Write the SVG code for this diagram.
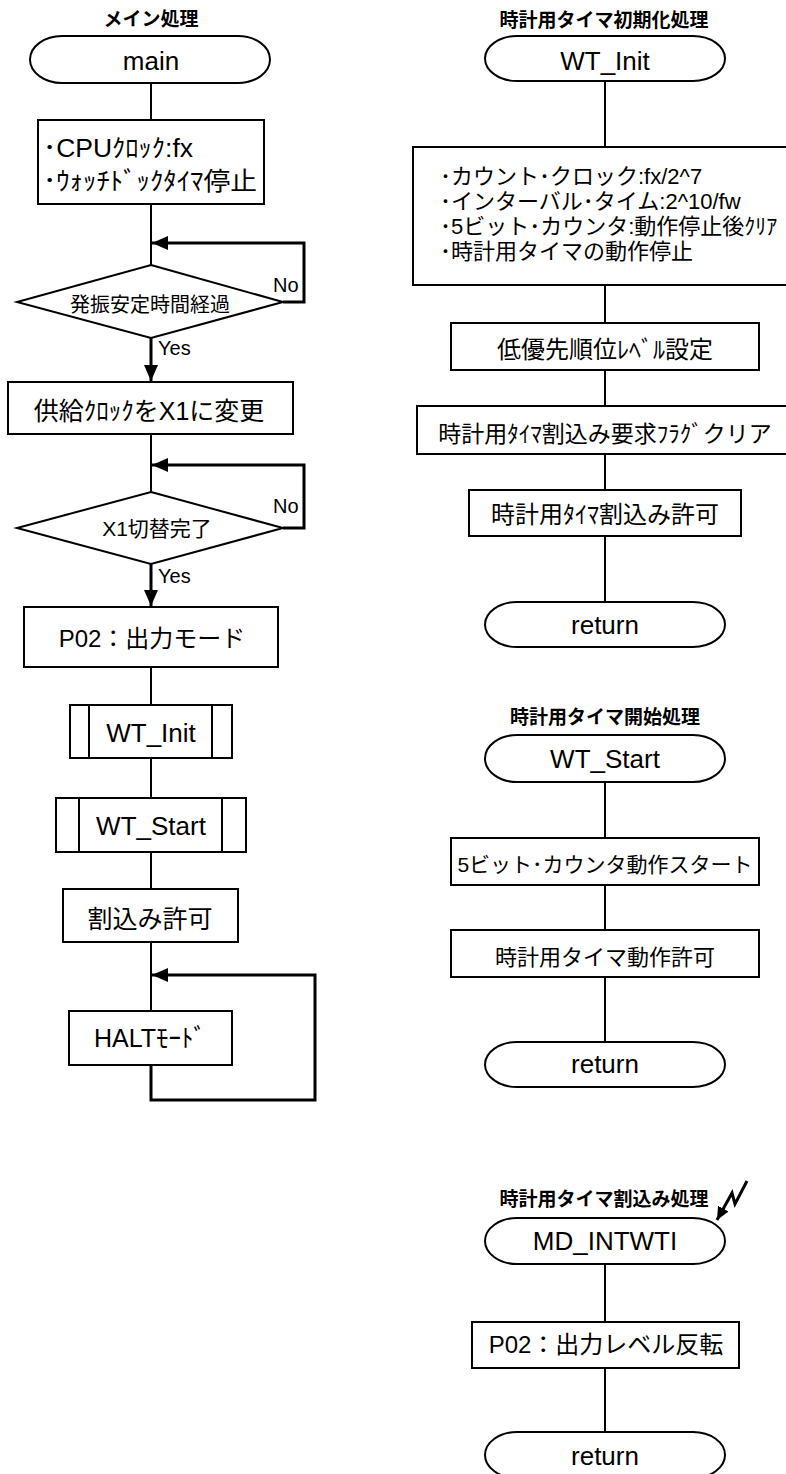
<svg xmlns="http://www.w3.org/2000/svg" width="786" height="1474" viewBox="0 0 786 1474">
<defs>
<style>
.bg{fill:#fff}
.box{fill:#fff;stroke:#000;stroke-width:2}
.ln{fill:none;stroke:#000;stroke-width:2}
.thk{fill:none;stroke:#000;stroke-width:3}
text{font-family:"Liberation Sans","Noto Sans CJK JP",sans-serif;fill:#000}
.ttl{font-family:"Noto Sans CJK JP",sans-serif;font-weight:bold;font-size:19px;text-anchor:middle}
.term{font-size:26px;text-anchor:middle}
.c{text-anchor:middle}
.lbl{font-size:20px}
</style>
<marker id="arr" markerUnits="userSpaceOnUse" markerWidth="16" markerHeight="14" refX="16" refY="7" orient="auto">
<path d="M0,0 L16,7 L0,14 z" fill="#000"/>
</marker>
<marker id="arrS" markerUnits="userSpaceOnUse" markerWidth="13" markerHeight="12" refX="13" refY="6" orient="auto">
<path d="M0,0 L13,6 L0,12 z" fill="#000"/>
</marker>
</defs>
<rect class="bg" x="0" y="0" width="786" height="1474"/>

<g id="connectors">
<path class="ln" d="M151,83 V120"/>
<path class="ln" d="M151,204 V265"/>
<path class="thk" d="M283,302 H304 V243 H152" marker-end="url(#arr)"/>
<path class="thk" d="M151,338 V381" marker-end="url(#arr)"/>
<path class="ln" d="M151,434 V492"/>
<path class="thk" d="M283,528 H304 V465 H152" marker-end="url(#arr)"/>
<path class="thk" d="M151,564 V606" marker-end="url(#arr)"/>
<path class="ln" d="M151,667 V705"/>
<path class="ln" d="M151,758 V798"/>
<path class="ln" d="M151,852 V889"/>
<path class="ln" d="M151,942 V1011"/>
<path class="thk" d="M151,1065 V1100 H315 V975 H152" marker-end="url(#arr)"/>
<path class="ln" d="M605,81 V147"/>
<path class="ln" d="M605,285 V323"/>
<path class="ln" d="M605,370 V406"/>
<path class="ln" d="M605,454 V490"/>
<path class="ln" d="M605,536 V602"/>
<path class="ln" d="M605,782 V838"/>
<path class="ln" d="M605,885 V930"/>
<path class="ln" d="M605,977 V1042"/>
<path class="ln" d="M605,1264 V1322"/>
<path class="ln" d="M605,1368 V1432"/>
<path class="thk" d="M747,1181 L735,1204 L732,1193 L717,1220" marker-end="url(#arrS)"/>
</g>

<g id="main-title"><text class="ttl" x="151" y="26">メイン処理</text></g>
<g id="n-main"><rect class="box" x="30" y="36" width="240" height="47" rx="32" ry="23.5"/><text class="term" x="151" y="70">main</text></g>
<g id="n-cpu"><rect class="box" x="38" y="120" width="226" height="84"/>
<text x="43" y="157" font-size="25" textLength="150" lengthAdjust="spacingAndGlyphs">･CPUｸﾛｯｸ:fx</text>
<text x="43" y="190" font-size="25" textLength="214" lengthAdjust="spacingAndGlyphs">･ｳｫｯﾁﾄﾞｯｸﾀｲﾏ停止</text></g>
<g id="n-osc"><polygon class="box" points="151,265 283,302 151,338 17,302"/><text class="c" x="150" y="312" font-size="20">発振安定時間経過</text>
<text class="lbl" x="273" y="292">No</text><text class="lbl" x="158" y="355">Yes</text></g>
<g id="n-x1"><rect class="box" x="8" y="382" width="285" height="52"/><text class="c" x="149" y="420" font-size="25">供給ｸﾛｯｸをX1に変更</text></g>
<g id="n-x1done"><polygon class="box" points="151,492 283,528 151,564 17,528"/><text class="c" x="157" y="536" font-size="21">X1切替完了</text>
<text class="lbl" x="273" y="513">No</text><text class="lbl" x="158" y="583">Yes</text></g>
<g id="n-p02"><rect class="box" x="24" y="607" width="254" height="60"/><text class="c" x="152" y="647" font-size="24">P02：出力モード</text></g>
<g id="n-callinit"><rect class="box" x="70" y="705" width="162" height="53"/><path class="ln" d="M89,705 V758 M212,705 V758"/><text class="term" x="151" y="742">WT_Init</text></g>
<g id="n-callstart"><rect class="box" x="56" y="798" width="190" height="54"/><path class="ln" d="M79,798 V852 M222,798 V852"/><text class="term" x="151" y="835">WT_Start</text></g>
<g id="n-ei"><rect class="box" x="63" y="889" width="175" height="53"/><text class="c" x="150" y="928" font-size="25">割込み許可</text></g>
<g id="n-halt"><rect class="box" x="69" y="1011" width="163" height="54"/><text class="c" x="150" y="1047" font-size="25">HALTﾓｰﾄﾞ</text></g>

<g id="init-title"><text class="ttl" x="604" y="27" font-size="20">時計用タイマ初期化処理</text></g>
<g id="n-wtinit"><rect class="box" x="485" y="36" width="240" height="45" rx="32" ry="22.5"/><text class="term" x="605" y="70">WT_Init</text></g>
<g id="n-settings"><rect class="box" x="413" y="147" width="384" height="138"/>
<text x="440" y="184" font-size="22">･カウント･クロック:fx/2^7</text>
<text x="440" y="209" font-size="22">･インターバル･タイム:2^10/fw</text>
<text x="440" y="234" font-size="22">･5ビット･カウンタ:動作停止後ｸﾘｱ</text>
<text x="440" y="259" font-size="22">･時計用タイマの動作停止</text></g>
<g id="n-prio"><rect class="box" x="451" y="323" width="308" height="47"/><text class="c" x="605" y="358" font-size="24">低優先順位ﾚﾍﾞﾙ設定</text></g>
<g id="n-flag"><rect class="box" x="417" y="406" width="376" height="48"/><text class="c" x="605" y="442" font-size="23">時計用ﾀｲﾏ割込み要求ﾌﾗｸﾞクリア</text></g>
<g id="n-wtie"><rect class="box" x="469" y="490" width="272" height="46"/><text class="c" x="605" y="523" font-size="24">時計用ﾀｲﾏ割込み許可</text></g>
<g id="n-ret1"><rect class="box" x="485" y="602" width="240" height="45" rx="32" ry="22.5"/><text class="term" x="605" y="634">return</text></g>

<g id="start-title"><text class="ttl" x="605" y="724" font-size="20">時計用タイマ開始処理</text></g>
<g id="n-wtstart"><rect class="box" x="485" y="735" width="240" height="47" rx="32" ry="23.5"/><text class="term" x="605" y="768">WT_Start</text></g>
<g id="n-cnt"><rect class="box" x="451" y="838" width="308" height="47"/><text class="c" x="605" y="872" font-size="21">5ビット･カウンタ動作スタート</text></g>
<g id="n-run"><rect class="box" x="451" y="930" width="308" height="47"/><text class="c" x="605" y="965" font-size="22">時計用タイマ動作許可</text></g>
<g id="n-ret2"><rect class="box" x="485" y="1042" width="240" height="45" rx="32" ry="22.5"/><text class="term" x="605" y="1073">return</text></g>

<g id="isr-title"><text class="ttl" x="604" y="1206" font-size="20">時計用タイマ割込み処理</text></g>
<g id="n-isr"><rect class="box" x="485" y="1218" width="240" height="46" rx="32" ry="23"/><text class="term" x="605" y="1250">MD_INTWTI</text></g>
<g id="n-toggle"><rect class="box" x="472" y="1322" width="267" height="46"/><text class="c" x="606" y="1353" font-size="24">P02：出力レベル反転</text></g>
<g id="n-ret3"><rect class="box" x="485" y="1432" width="240" height="46" rx="32" ry="23"/><text class="term" x="605" y="1465">return</text></g>
</svg>
